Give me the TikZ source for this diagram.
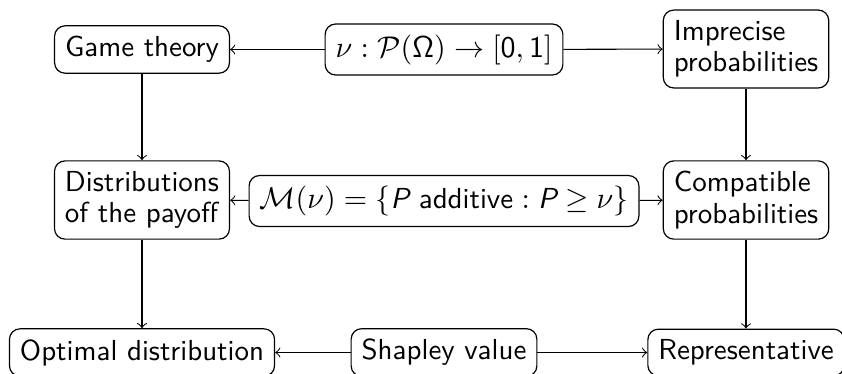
\documentclass[tikz,border=0pt]{standalone}
\usetikzlibrary{arrows}
\tikzset{
  box/.style={draw, rounded corners=3.5pt, align=left, inner sep=3.5pt,
    font=\sffamily\fontsize{9.65}{10.4}\selectfont},
  conn/.style={->, line width=0.35pt}
}
\begin{document}
\begin{tikzpicture}[x=0.33333pt, y=-0.33333pt]
\useasboundingbox (0,0) rectangle (842,373);
\node[box] (game) at (142,49.5) {Game theory};
\node[box] (nu) at (444,49.5) {$\nu : \mathcal{P}(\mathsf{\Omega}) \to [\mathsf{0},\mathsf{1}]$};
\node[box] (imp) at (746,49) {Imprecise\\probabilities};
\node[box] (dist) at (142,200) {Distributions\\of the payoff};
\node[box] (M) at (444,201) {$\mathcal{M}(\nu) = \{\textit{P}\mbox{ additive} : \textit{P} \geq \nu\}$};
\node[box] (comp) at (746,200) {Compatible\\probabilities};
\node[box] (opt) at (142,352.5) {Optimal distribution};
\node[box] (shap) at (444,352.5) {Shapley value};
\node[box] (rep) at (746,352.5) {Representative};
\draw[conn] (nu) -- (game);
\draw[conn] (nu) -- (imp);
\draw[conn] (M) -- (dist);
\draw[conn] (M) -- (comp);
\draw[conn] (shap) -- (opt);
\draw[conn] (shap) -- (rep);
\draw[conn] (game) -- (dist);
\draw[conn] (dist) -- (opt);
\draw[conn] (imp) -- (comp);
\draw[conn] (comp) -- (rep);
\end{tikzpicture}
\end{document}
